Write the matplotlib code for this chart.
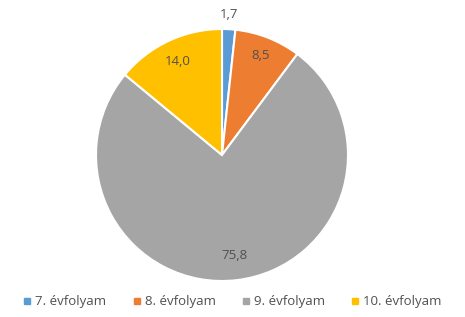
import numpy as np
import matplotlib.pyplot as plt
from matplotlib.lines import Line2D

# adatok
categories = ["7. évfolyam", "8. évfolyam", "9. évfolyam", "10. évfolyam"]
values = [1.7, 8.5, 75.8, 14.0]
value_labels = ["1,7", "8,5", "75,8", "14,0"]
colors = ["#5B9BD5", "#ED7D31", "#A5A5A5", "#FFC000"]
label_dist = [1.12, 0.85, 0.80, 0.82]

plt.rcParams["font.family"] = ["Open Sans", "DejaVu Sans"]
TEXT_COLOR = "#505050"

fig = plt.figure(figsize=(4.65, 3.17), dpi=100)
ax = fig.add_axes([96 / 465, 36 / 317, 252 / 465, 252 / 317])

wedges, _ = ax.pie(
    values,
    colors=colors,
    startangle=90,
    counterclock=False,
    wedgeprops=dict(edgecolor="white", linewidth=1.5),
)
ax.set_aspect("equal")
ax.set_xlim(-1, 1)
ax.set_ylim(-1, 1)

for w, lab, d in zip(wedges, value_labels, label_dist):
    ang = np.deg2rad((w.theta1 + w.theta2) / 2)
    ax.text(d * np.cos(ang), d * np.sin(ang), lab, ha="center", va="center",
            fontsize=9.5, color=TEXT_COLOR, clip_on=False)

handles = [Line2D([0], [0], marker="s", linestyle="none", markersize=5,
                  markerfacecolor=c, markeredgecolor=c) for c in colors]
fig.legend(handles, categories, loc="center", bbox_to_anchor=(0.5, 15 / 317),
           ncol=4, frameon=False, fontsize=9.5, handlelength=0.6,
           handletextpad=0.3, columnspacing=2.0, labelcolor=TEXT_COLOR)

fig.savefig("out.png", dpi=100)
